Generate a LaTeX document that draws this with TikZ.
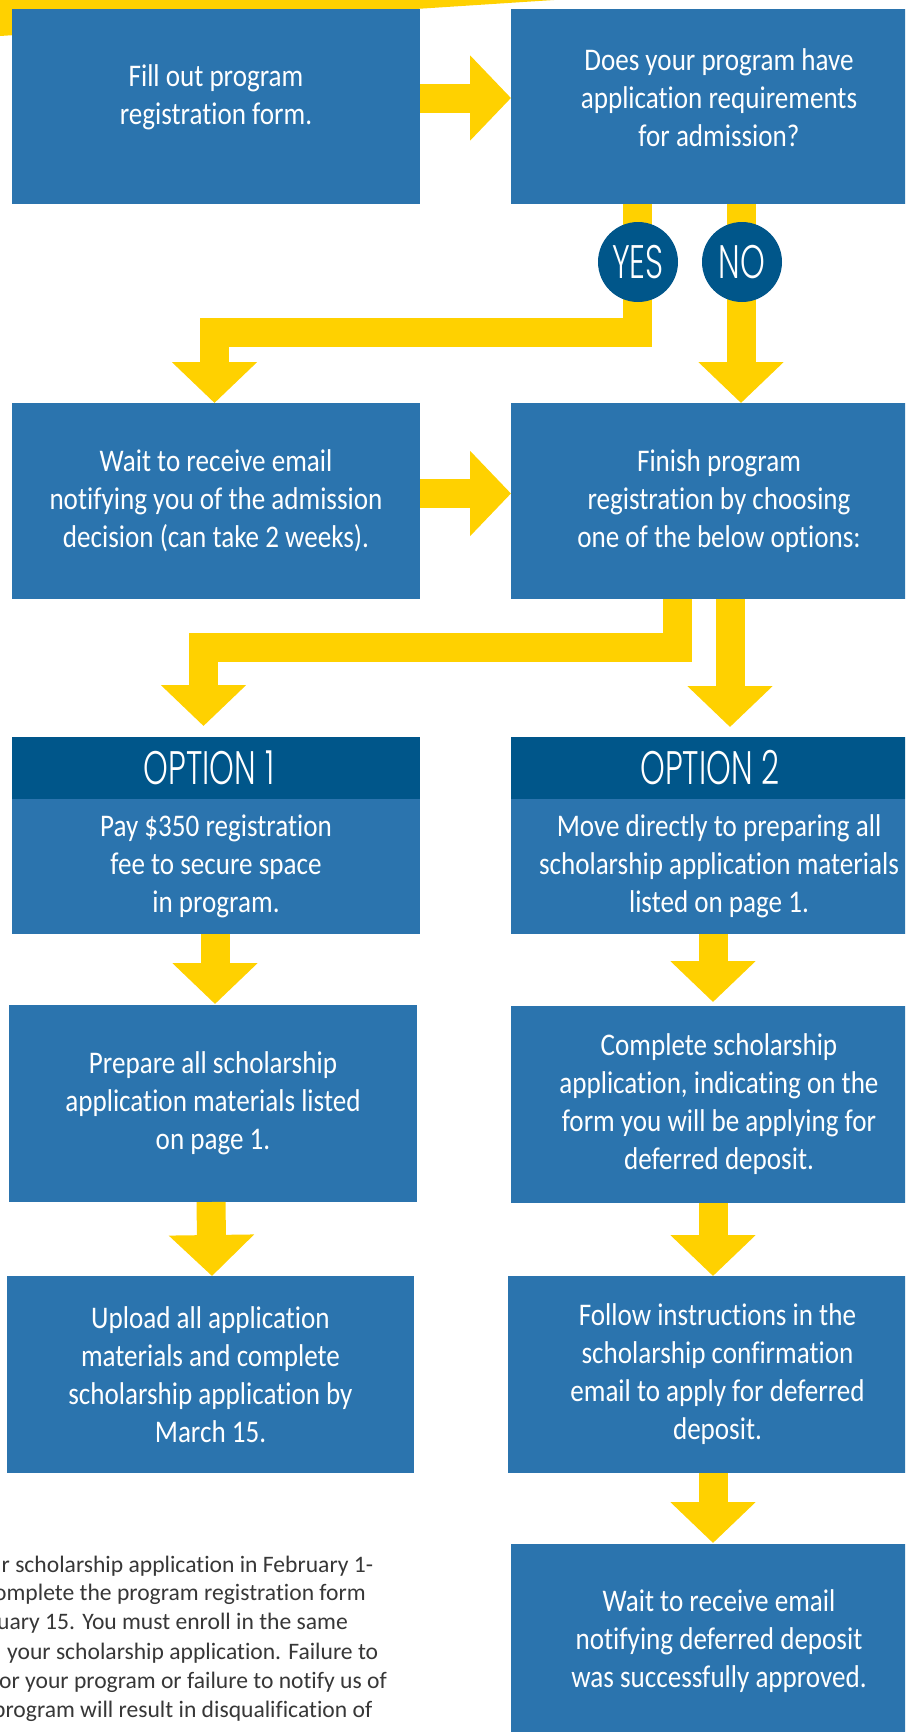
\documentclass[tikz,border=0pt]{standalone}
\usepackage{fontspec}
\setmainfont{Carlito}[Ligatures=NoCommon]
\newfontfamily\boxfont{Carlito}[FakeStretch=0.86, Ligatures=NoCommon]
\newfontfamily\gothic{Poppins Light}[FakeStretch=0.67]
\usetikzlibrary{arrows.meta}
\definecolor{boxblue}{RGB}{43,116,174}
\definecolor{darkblue}{RGB}{0,86,138}
\definecolor{yel}{RGB}{255,209,0}
\definecolor{txtgray}{RGB}{55,55,55}
\newcommand{\lowpad}{\rule[-24pt]{0pt}{24pt}}
\newcommand{\lowpadb}{\rule[-17pt]{0pt}{17pt}}
\tikzset{
  box/.style={fill=boxblue, draw=none, inner sep=0pt, outer sep=0pt, anchor=north west,
    text=white, align=center, font=\boxfont\fontsize{31.5}{38}\selectfont},
  hdr/.style={fill=darkblue, draw=none, inner sep=0pt, outer sep=0pt, anchor=north west,
    text=white, font=\gothic\fontsize{47}{47}\selectfont},
  ball/.style={circle, fill=darkblue, draw=none, minimum size=80pt, inner sep=0pt,
    text=white, font=\gothic\fontsize{47}{47}\selectfont},
  yarrow/.style={draw=yel, line width=29pt, line join=miter,
    -{Triangle[width=83pt, length=41pt]}},
  note/.style={anchor=base west, inner sep=0pt, text=txtgray,
    font=\fontsize{23.6}{29}\selectfont}
}
\begin{document}
\begin{tikzpicture}[x=1pt, y=1pt]
\useasboundingbox (0,0) rectangle (905,-1732);
\fill[white] (0,0) rectangle (905,-1732);
\begin{scope}
\clip (0,0) rectangle (905,-1732);
% top yellow band
\fill[yel] (0,0) -- (554,0) -- (0,-36) -- cycle;

% boxes
\node[box, minimum width=408pt, minimum height=195pt] (b1) at (12,-9)
  {Fill out program\\registration form.\lowpad};
\node[box, minimum width=416pt, minimum height=195pt] (b2) at (511,-9)
  {Does your program have\\application requirements\\for admission?\lowpadb};
\node[box, minimum width=408pt, minimum height=196pt] (b3) at (12,-403)
  {Wait to receive email\\notifying you of the admission\\decision (can take 2 weeks).};
\node[box, minimum width=416pt, minimum height=196pt] (b4) at (511,-403)
  {Finish program\\registration by choosing\\one of the below options:};
\node[hdr, minimum width=408pt, minimum height=62pt] (o1h) at (12,-737) {OPTION 1\hspace*{14pt}};
\node[box, minimum width=408pt, minimum height=135pt] (o1) at (12,-799)
  {Pay \$350 registration\\fee to secure space\\in program.};
\node[hdr, minimum width=416pt, minimum height=62pt] (o2h) at (511,-737) {OPTION 2\hspace*{18pt}};
\node[box, minimum width=416pt, minimum height=135pt] (o2) at (511,-799)
  {Move directly to preparing all\\scholarship application materials\\listed on page 1.};
\node[box, minimum width=408pt, minimum height=197pt] (b5) at (9,-1005)
  {Prepare all scholarship\\application materials listed\\on page 1.};
\node[box, minimum width=416pt, minimum height=197pt] (b6) at (511,-1006)
  {Complete scholarship\\application, indicating on the\\form you will be applying for\\deferred deposit.};
\node[box, minimum width=407pt, minimum height=197pt] (b7) at (7,-1276)
  {Upload all application\\materials and complete\\scholarship application by\\March 15.};
\node[box, minimum width=419pt, minimum height=197pt] (b8) at (508,-1276)
  {Follow instructions in the\\scholarship confirmation\\email to apply for deferred\\deposit.};
\node[box, minimum width=416pt, minimum height=194pt] (b9) at (511,-1544)
  {Wait to receive email\\notifying deferred deposit\\was successfully approved.};

% connectors
\draw[yarrow] ([yshift=8.5pt]b1.east) -- ([yshift=8.5pt]b2.west);
\draw[yarrow] ([xshift=-81.5pt]b2.south) -- ++(0,-128.5) -| ([xshift=-1.5pt]b3.north);
\draw[yarrow] ([xshift=22pt]b2.south) -- ([xshift=22pt]b4.north);
\draw[yarrow] ([yshift=7.5pt]b3.east) -- ([yshift=7.5pt]b4.west);
\draw[yarrow] ([xshift=-41.5pt]b4.south) -- ++(0,-48) -| ([xshift=-12.5pt,yshift=11pt]o1h.north);
\draw[yarrow] ([xshift=11pt]b4.south) -- ([xshift=11pt,yshift=10pt]o2h.north);
\draw[yarrow] ([xshift=-1pt]o1.south) -- ([xshift=2pt,yshift=1pt]b5.north);
\draw[yarrow] ([xshift=-6pt]o2.south) -- ([xshift=-6pt,yshift=4pt]b6.north);
\draw[yarrow] ([xshift=-2pt]b5.south) -- ([xshift=1.5pt]b7.north);
\draw[yarrow] ([xshift=-6pt]b6.south) -- ([xshift=-4.5pt]b8.north);
\draw[yarrow] ([xshift=-4.5pt]b8.south) -- ([xshift=-6pt,yshift=1pt]b9.north);

% yes / no
\node[ball] (yes) at (638,-262) {YES};
\node[ball] (no) at (742,-262) {NO};

% note text
\node[note] (n1) at (1.5,-1572) {r scholarship application in February 1-};
\node[note] (n2) at (-6,-1600) {omplete the program registration form};
\node[note] (n3) at (-3,-1629) {uary 15. You must enroll in the same};
\node[note] (n4) at (7,-1659) {your scholarship application. Failure to};
\node[note] (n5) at (-1,-1688) {or your program or failure to notify us of};
\node[note] (n6) at (-7,-1717) {program will result in disqualification of};
\end{scope}
\end{tikzpicture}
\end{document}
